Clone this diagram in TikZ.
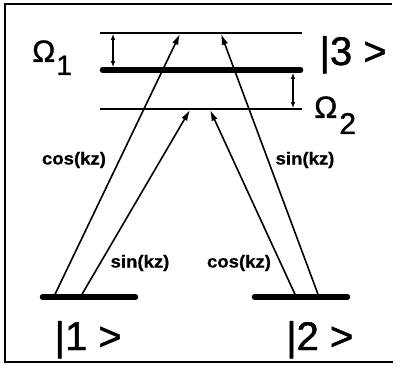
\documentclass[tikz,border=0pt]{standalone}
\usepackage{fontspec}
\setmainfont{Liberation Sans}
\newfontfamily\heavysans[FakeBold=1.2]{Liberation Sans}
\newfontfamily\coefsans[FakeBold=0.6]{Liberation Sans Bold}
\usetikzlibrary{arrows.meta}
\begin{document}
\begin{tikzpicture}[x=1pt,y=-1pt,
  frame/.style={line width=1.5pt},
  thinlvl/.style={line width=1.5pt},
  thicklvl/.style={line width=5.5pt, line cap=round},
  beam/.style={line width=1.6pt, -{Latex[length=11pt,width=6.5pt]}},
  detune/.style={line width=1.2pt, {Latex[length=6pt,width=4.5pt]}-{Latex[length=6pt,width=4.5pt]}},
  coef/.style={font=\fontsize{17.5}{17.5}\coefsans, inner sep=0pt, xscale=1.06},
  big/.style={font=\fontsize{40}{40}\heavysans, inner sep=0pt, anchor=base west},
  omg/.style={font=\fontsize{31}{31}\heavysans, inner sep=0pt, anchor=base west},
]
\useasboundingbox (0,0) rectangle (401,371);
\draw[frame] (392,4) -- (5,4) -- (5,362) -- (393,362);
% levels
\coordinate (t1) at (100,33);  \coordinate (t2) at (302,33);
\coordinate (m1) at (102.5,70); \coordinate (m2) at (300.5,70);
\coordinate (b1) at (100,109); \coordinate (b2) at (302,109);
\coordinate (g1a) at (42.5,297); \coordinate (g1b) at (135.5,297);
\coordinate (g2a) at (254.5,297); \coordinate (g2b) at (347.5,297);
\draw[thinlvl] (t1) -- (t2);
\draw[thinlvl] (b1) -- (b2);
\draw[thicklvl] (m1) -- (m2);
\draw[thicklvl] (g1a) -- (g1b);
\draw[thicklvl] (g2a) -- (g2b);
% detunings
\coordinate (d1a) at (113,33.8); \coordinate (d1b) at (113,67.2);
\coordinate (d2a) at (293,72.8); \coordinate (d2b) at (293,108.2);
\draw[detune] (d1a) -- (d1b);
\draw[detune] (d2a) -- (d2b);
% beams
\coordinate (s1) at (55,294.3);  \coordinate (e1) at (180,33.8);
\coordinate (s2) at (82,294.3);  \coordinate (e2) at (190,109.8);
\coordinate (s3) at (295,294.3); \coordinate (e3) at (210,109.8);
\coordinate (s4) at (318,294.3); \coordinate (e4) at (221,33.8);
\draw[beam] (s1) -- (e1);
\draw[beam] (s2) -- (e2);
\draw[beam] (s3) -- (e3);
\draw[beam] (s4) -- (e4);
% labels
\node[coef] (c1) at (74,160) {cos(kz)};
\node[coef] (c2) at (305,160) {sin(kz)};
\node[coef] (c3) at (140,263) {sin(kz)};
\node[coef] (c4) at (239,263) {cos(kz)};
\node[omg] (o1) at (32,62) {Ω\kern1pt\raisebox{-13pt}{\fontsize{28}{28}\selectfont 1}};
\node[omg] (o2) at (314,118) {Ω\kern2pt\raisebox{-16pt}{\fontsize{30}{30}\selectfont 2}};
\node[big] (k3) at (319.4,65) {|3 >};
\node[big] (k1) at (54.4,350) {|1 >};
\node[big] (k2) at (286,350) {|2 >};
\end{tikzpicture}
\end{document}
